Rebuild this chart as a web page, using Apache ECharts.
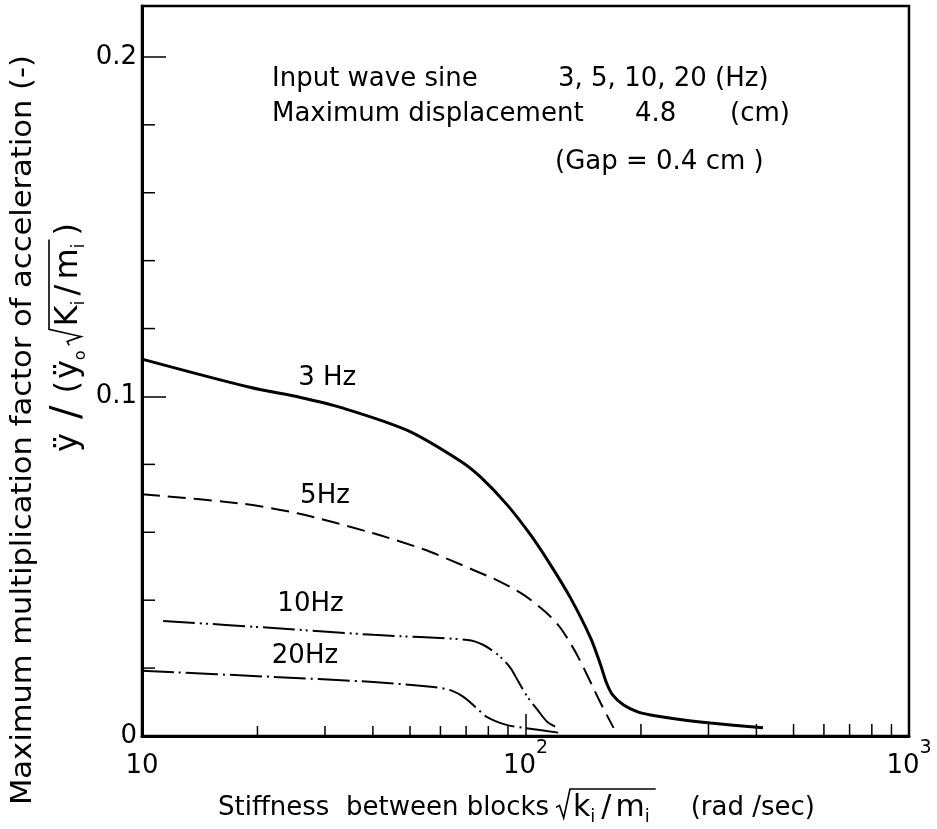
<!DOCTYPE html>
<html>
<head>
<meta charset="utf-8">
<script src="https://cdn.jsdelivr.net/npm/echarts@6/dist/echarts.min.js"></script>
<style>
  html, body { margin: 0; padding: 0; background: #fff; }
  #chart { width: 937px; height: 829px; }
</style>
</head>
<body>
<div id="chart"></div>
<script>
// ---- axis ticks ----
const xMinorTicks = [20, 30, 40, 50, 60, 70, 80, 90, 200, 300, 400, 500, 600, 700, 800, 900];
const yTickLabels = ['0', '0.1', '0.2'];
const yMinorTicks = [0.02, 0.04, 0.06, 0.08, 0.12, 0.14, 0.16, 0.18];

// ---- curves: stiffness sqrt(k/m) [rad/sec] vs. max multiplication factor ----
const stiff3Hz = [10, 19.1, 25.9, 32.9, 49.2, 67.6, 76.3, 89.7, 103.1, 116.2, 131.1, 147.8, 157.0, 162.7, 168.7, 180.2, 196.1, 211.9, 258.5, 304, 416];
const factor3Hz = [0.111, 0.1027, 0.0997, 0.0968, 0.0900, 0.0810, 0.0763, 0.0680, 0.0592, 0.0504, 0.0406, 0.0289, 0.0209, 0.0156, 0.0121, 0.0091, 0.0071, 0.0062, 0.0047, 0.0038, 0.0024];

const stiff5Hz = [10, 18.0, 25.4, 40.1, 54.2, 63.7, 73.1, 86.0, 100, 112.8, 123.4, 136.7, 157.0, 169.7];
const factor5Hz = [0.0712, 0.0685, 0.0656, 0.0597, 0.0550, 0.0518, 0.0489, 0.0454, 0.0412, 0.0365, 0.0318, 0.0236, 0.0097, 0.0024];

const stiff10Hz = [11.35, 22.0, 40.1, 70.6, 77.7, 86.0, 91.4, 95.3, 101.2, 107.5, 114.1, 121.2];
const factor10Hz = [0.0339, 0.0318, 0.0298, 0.0283, 0.0268, 0.0233, 0.0200, 0.0165, 0.0115, 0.0077, 0.0041, 0.0024];

const stiff20Hz = [10, 22.0, 40.1, 57.5, 63.7, 68.9, 74.1, 78.6, 83.5, 89.7, 98.9, 123.4];
const factor20Hz = [0.0192, 0.0174, 0.0159, 0.0144, 0.0135, 0.0115, 0.0085, 0.0059, 0.0044, 0.0032, 0.0024, 0.0009];

const seriesNames = ['3 Hz', '5Hz', '10Hz', '20Hz'];

const FONT = '"DejaVu Sans"';
const zip = (xs, ys) => xs.map((x, i) => [x, ys[i]]);

// text measuring for hand-set formula rows
const mctx = document.createElement('canvas').getContext('2d');
function textW(str, size) {
  mctx.font = size + 'px ' + FONT;
  return mctx.measureText(str).width;
}
// lays out text pieces left-to-right; numbers are gaps, {rad:[...]} draws a radical over its contents
function buildRow(list, x, out, m) {
  for (const p of list) {
    if (typeof p === 'number') { x += p; continue; }
    if (p.rad) {
      const rx = x;
      x = buildRow(p.rad, x + m.radW + 3, out, m) + 2;
      const mid = m.base - (m.base - m.bar) * 0.4;
      out.push({
        type: 'polyline',
        shape: { points: [[rx, mid + 1], [rx + m.radW * 0.25, mid - 1], [rx + m.radW * 0.55, m.base], [rx + m.radW, m.bar], [x, m.bar]] },
        style: { stroke: '#000', lineWidth: 1.6, fill: null }
      });
      continue;
    }
    out.push({
      type: 'text', x: x, y: p.dy || 0,
      style: { text: p.t, fontSize: p.s, fontFamily: FONT, fill: '#000', align: 'left', verticalAlign: 'middle' }
    });
    x += textW(p.t, p.s);
  }
  return x;
}

const yFormula = [];
buildRow([
  { t: 'ÿ', s: 32 }, 14, { t: '/', s: 40 }, 12, { t: '(', s: 32 }, 2, { t: 'ÿ', s: 32 }, { t: 'o', s: 16, dy: 12 }, 5,
  { rad: [{ t: 'K', s: 32 }, { t: 'i', s: 18, dy: 10 }, 5, { t: '/', s: 32 }, 5, { t: 'm', s: 32 }, { t: 'i', s: 18, dy: 10 }, 2] },
  4, { t: ')', s: 32 }
], 0, yFormula, { radW: 16, bar: -20, base: 12 });

const xFormula = [];
buildRow([
  { rad: [{ t: 'k', s: 30 }, { t: 'i', s: 18, dy: 9 }, 6, { t: '/', s: 30 }, 4, { t: 'm', s: 30 }, { t: 'i', s: 18, dy: 9 }, 4] }
], 0, xFormula, { radW: 14, bar: -19, base: 10 });

const txt = (text, x, y, extra, rotation, size) => ({
  type: 'text', x: x, y: y, rotation: rotation || 0,
  style: Object.assign({ text: text, fontSize: size || 26, fontFamily: FONT, fill: '#000', align: 'left', verticalAlign: 'middle' }, extra || {})
});

// y title stretched along its reading direction to span the axis height
const yTitle = 'Maximum multiplication factor of acceleration (-)';
const yTitleEl = txt(yTitle, 24, 430, { align: 'center' }, Math.PI / 2, 28);
yTitleEl.scaleX = 750 / textW(yTitle, 28);

const curveLabel = (text, coord) => ({
  symbol: 'circle', symbolSize: 1, silent: true,
  itemStyle: { color: 'rgba(0,0,0,0)' },
  label: { show: true, position: 'inside', formatter: text, color: '#000', fontSize: 26, fontFamily: FONT },
  data: [{ coord: coord }]
});

const lineSeries = (name, xs, ys, width, type, labelAt) => ({
  name: name, type: 'line', data: zip(xs, ys), showSymbol: false, symbol: 'none',
  smooth: 0.3,
  lineStyle: { color: '#000', width: width, type: type, cap: 'butt' },
  markPoint: curveLabel(name, labelAt)
});

const chart = echarts.init(document.getElementById('chart'), null, { renderer: 'canvas' });

chart.setOption({
  animation: false,
  backgroundColor: '#fff',
  grid: { left: 142, top: 6, width: 767, height: 730, show: true, borderColor: '#000', borderWidth: 2.5, backgroundColor: 'transparent' },
  xAxis: {
    type: 'log', logBase: 10, min: 10, max: 1000,
    axisLine: { show: true, onZero: false, lineStyle: { color: '#000', width: 3 } },
    axisTick: { show: true, inside: true, length: 22, lineStyle: { color: '#000', width: 1.5 } },
    splitLine: { show: false },
    axisLabel: {
      margin: 3, color: '#000',
      formatter: v => {
        const e = Math.round(Math.log10(v));
        return e === 1 ? '{n|10}' : '{n|10}{s|' + e + '}';
      },
      rich: {
        n: { fontSize: 26, fontFamily: FONT, color: '#000', padding: [14, 0, 0, 0], verticalAlign: 'bottom' },
        s: { fontSize: 19, fontFamily: FONT, color: '#000', verticalAlign: 'top', lineHeight: 20 }
      }
    }
  },
  yAxis: {
    type: 'value', min: 0, max: 0.215, interval: 0.1,
    axisLine: { show: true, lineStyle: { color: '#000', width: 3 } },
    axisTick: { show: true, inside: true, length: 24, lineStyle: { color: '#000', width: 1.5 } },
    splitLine: { show: false },
    axisLabel: {
      margin: 5, color: '#000', fontSize: 26, fontFamily: FONT,
      formatter: v => {
        const hit = yTickLabels.find(l => Math.abs(Number(l) - v) < 1e-9);
        return hit === undefined ? '' : hit;
      }
    }
  },
  series: [
    lineSeries(seriesNames[0], stiff3Hz, factor3Hz, 3, 'solid', [30.4, 0.1054]),
    lineSeries(seriesNames[1], stiff5Hz, factor5Hz, 2, [18, 8], [30.0, 0.0707]),
    lineSeries(seriesNames[2], stiff10Hz, factor10Hz, 2, [32, 5, 2, 4, 2, 5], [27.5, 0.0389]),
    lineSeries(seriesNames[3], stiff20Hz, factor20Hz, 2, [32, 5, 2, 5], [26.6, 0.0236]),
    {
      // minor ticks on the logarithmic axis
      type: 'custom', silent: true, clip: false, z: 5,
      data: xMinorTicks.map(v => [v, 0]),
      renderItem: (params, api) => {
        const v = api.value(0);
        const p = api.coord([v, 0]);
        const len = v > 100 ? 12 : 10;
        return { type: 'line', shape: { x1: p[0], y1: p[1], x2: p[0], y2: p[1] - len }, style: { stroke: '#000', lineWidth: 1.5 } };
      }
    },
    {
      // minor ticks on the value axis
      type: 'custom', silent: true, clip: false, z: 5,
      data: yMinorTicks.map(v => [10, v]),
      renderItem: (params, api) => {
        const p = api.coord([10, api.value(1)]);
        return { type: 'line', shape: { x1: p[0], y1: p[1], x2: p[0] + 13, y2: p[1] }, style: { stroke: '#000', lineWidth: 1.5 } };
      }
    }
  ],
  graphic: [
    // notes in the upper right
    txt('Input wave sine', 272, 79),
    txt('3, 5, 10, 20 (Hz)', 558, 79),
    txt('Maximum displacement', 272, 114),
    txt('4.8', 635, 114),
    txt('(cm)', 730, 114),
    txt('(Gap = 0.4 cm )', 555, 162),
    // y-axis title, two lines reading upward
    yTitleEl,
    { type: 'group', x: 69, y: 452, rotation: Math.PI / 2, children: yFormula },
    // x-axis title
    txt('Stiffness  between blocks', 218, 808),
    { type: 'group', x: 556, y: 808, children: xFormula },
    txt('(rad /sec)', 815, 808, { align: 'right' })
  ]
});
</script>
</body>
</html>
